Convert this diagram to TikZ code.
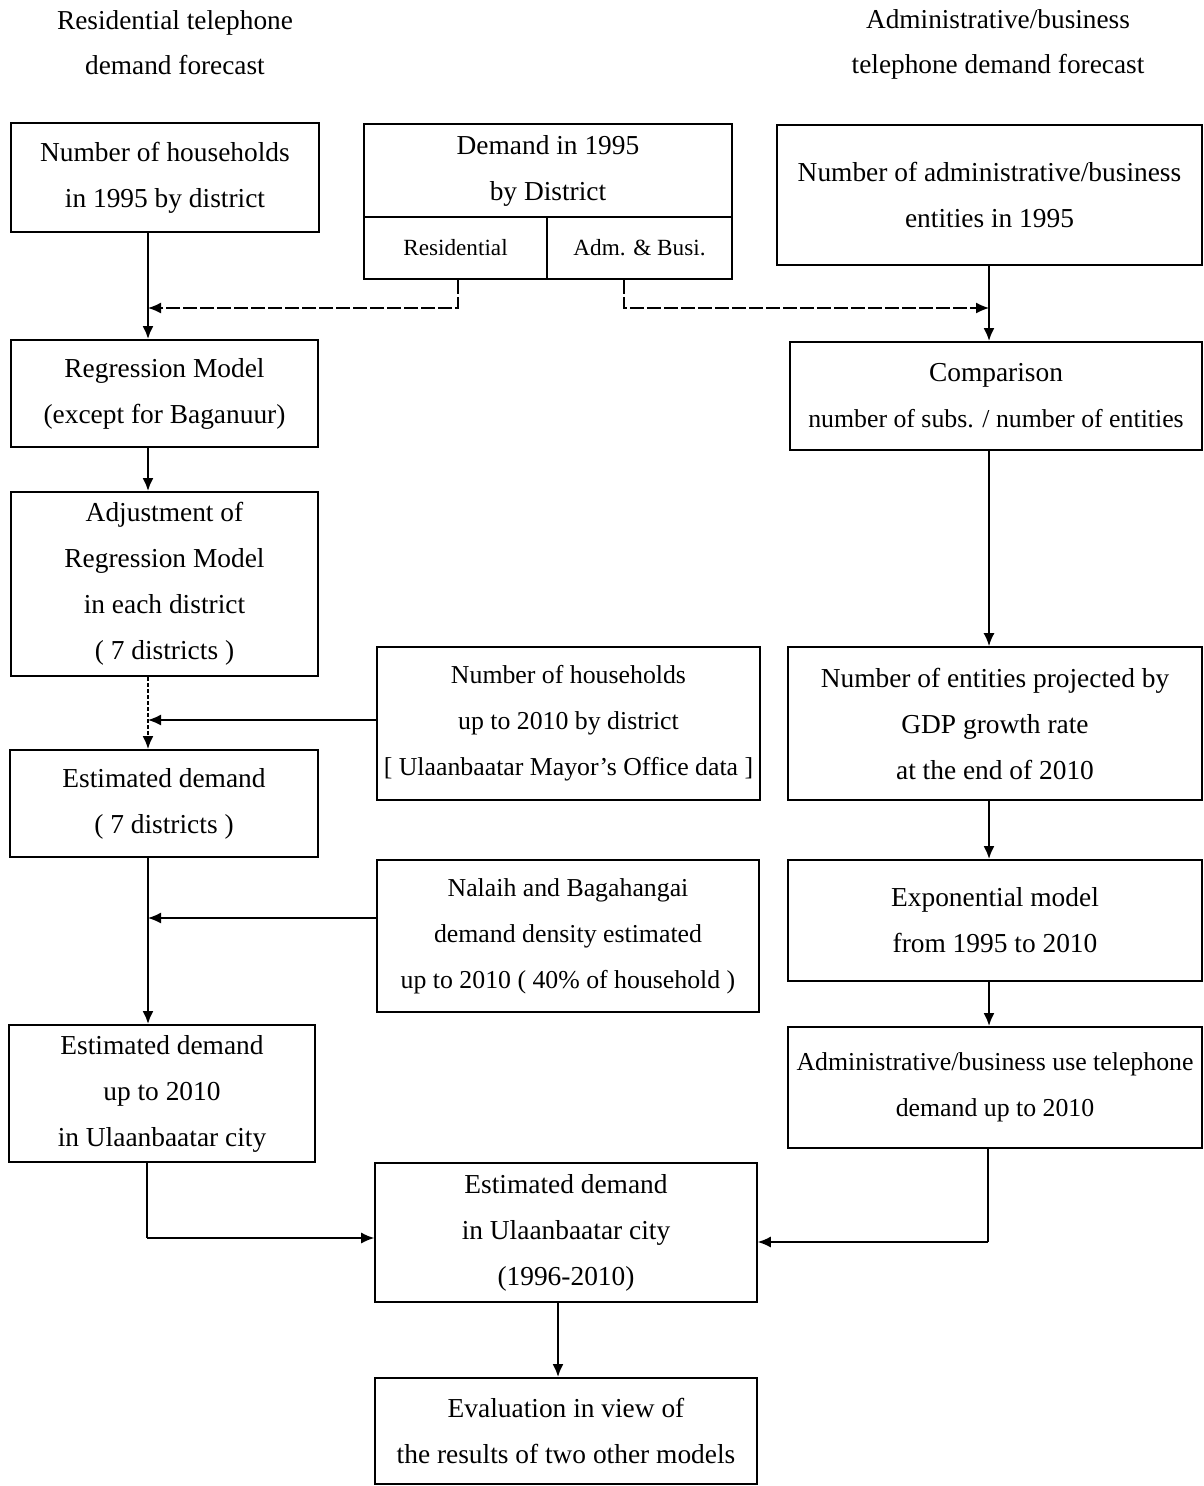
\documentclass[tikz,border=0pt]{standalone}
\usepackage{fontspec}
\setmainfont{Liberation Serif}
\usetikzlibrary{arrows.meta}
\newcommand\mkbox[7][]{%
  \node[boxstyle,#1,minimum width={(#4-#2)*1pt},minimum height={(#5-#3)*1pt}] (#6) at ({(#2+#4)/2},{(#3+#5)/2}) {#7};}
\begin{document}
\begin{tikzpicture}[x=1pt,y=-1pt,
  boxstyle/.style={draw,line width=1.6pt,align=center,inner sep=0pt,font=\fontsize{27.4}{46}\selectfont},
  midbox/.style={font=\fontsize{25.8}{46}\selectfont},
  smallbox/.style={font=\fontsize{23.2}{46}\selectfont},
  title/.style={align=center,font=\fontsize{27.3}{45}\selectfont},
  mainarrow/.style={line width=2.8pt,-{Latex[length=13pt,width=11pt]}},
  mainline/.style={line width=2.8pt},
  thinarrow/.style={line width=1.4pt,-{Latex[length=13pt,width=11pt]}},
  dasharrow/.style={line width=1.4pt,dash pattern=on 14pt off 3pt,-{Latex[length=13pt,width=11pt]}},
  dotarrow/.style={line width=2.2pt,dash pattern=on 4pt off 2pt,-{Latex[length=13pt,width=11pt]}}]
\useasboundingbox (0,0) rectangle (1204,1486);
\fill[white] (0,0) rectangle (1204,1486);
% titles
\node[title] (t1) at (175,43) {Residential telephone\\demand forecast};
\node[title] (t2) at (998,44) {Administrative/business\\telephone demand forecast};
% boxes
\mkbox{11}{123}{319}{232}{A}{Number of households\\in 1995 by district}
\mkbox{364}{124}{732}{217}{B}{Demand in 1995\\by District}
\mkbox[smallbox]{364}{217}{547}{279}{Bres}{Residential}
\mkbox[smallbox]{547}{217}{732}{279}{Badm}{Adm. \& Busi.}
\mkbox{777}{125}{1202}{265}{C}{Number of administrative/business\\entities in 1995}
\mkbox{11}{340}{318}{447}{D}{Regression Model\\(except for Baganuur)}
\mkbox{790}{342}{1202}{450}{E}{Comparison\\{\fontsize{25.8}{46}\selectfont number of subs. / number of entities}}
\mkbox{11}{492}{318}{676}{F}{Adjustment of\\Regression Model\\in each district\\( 7 districts )}
\mkbox[midbox]{377}{647}{760}{800}{G}{Number of households\\up to 2010 by district\\{[} Ulaanbaatar Mayor's Office data {]}}
\mkbox{788}{647}{1202}{800}{H}{Number of entities projected by\\GDP growth rate\\at the end of 2010}
\mkbox{10}{750}{318}{857}{I}{Estimated demand\\( 7 districts )}
\mkbox[midbox]{377}{860}{759}{1012}{J}{Nalaih and Bagahangai\\demand density estimated\\up to 2010 ( 40\% of household )}
\mkbox{788}{860}{1202}{981}{K}{Exponential model\\from 1995 to 2010}
\mkbox{9}{1025}{315}{1162}{L}{Estimated demand\\up to 2010\\in Ulaanbaatar city}
\mkbox[midbox]{788}{1027}{1202}{1148}{M}{Administrative/business use telephone\\demand up to 2010}
\mkbox{375}{1163}{757}{1302}{N}{Estimated demand\\in Ulaanbaatar city\\(1996-2010)}
\mkbox{375}{1378}{757}{1484}{O}{Evaluation in view of\\the results of two other models}
% helper coordinates
\coordinate (lx) at (148,0);
\coordinate (rx) at (989,0);
\coordinate (mx) at (558,0);
\coordinate (resx) at (458,0);
\coordinate (admx) at (624,0);
\coordinate (j1) at (148,308);
\coordinate (j2) at (989,308);
\coordinate (j3) at (148,720);
\coordinate (j4) at (148,918);
\coordinate (j5) at (147,1238);
\coordinate (j6) at (988,1242);
% connectors
\draw[mainarrow] (A.south -| lx) -- (D.north -| lx);
\draw[dasharrow] (Bres.south -| resx) |- (j1);
\draw[dasharrow] (Badm.south -| admx) |- (j2);
\draw[mainarrow] (C.south -| rx) -- (E.north -| rx);
\draw[mainarrow] (D.south -| lx) -- (F.north -| lx);
\draw[thinarrow,line width=1.9pt] (E.south -| rx) -- (H.north -| rx);
\draw[dotarrow] (F.south -| lx) -- (I.north -| lx);
\draw[thinarrow] (G.west |- j3) -- (j3);
\draw[mainarrow] (I.south -| lx) -- (L.north -| lx);
\draw[thinarrow] (J.west |- j4) -- (j4);
\draw[mainarrow] (H.south -| rx) -- (K.north -| rx);
\draw[mainarrow] (K.south -| rx) -- (M.north -| rx);
\draw[mainline] (L.south -| j5) -- (j5);
\draw[thinarrow] (j5) -- (N.west |- j5);
\draw[mainline] (M.south -| j6) -- (j6);
\draw[thinarrow] (j6) -- (N.east |- j6);
\draw[mainarrow] (N.south -| mx) -- (O.north -| mx);
\end{tikzpicture}
\end{document}
